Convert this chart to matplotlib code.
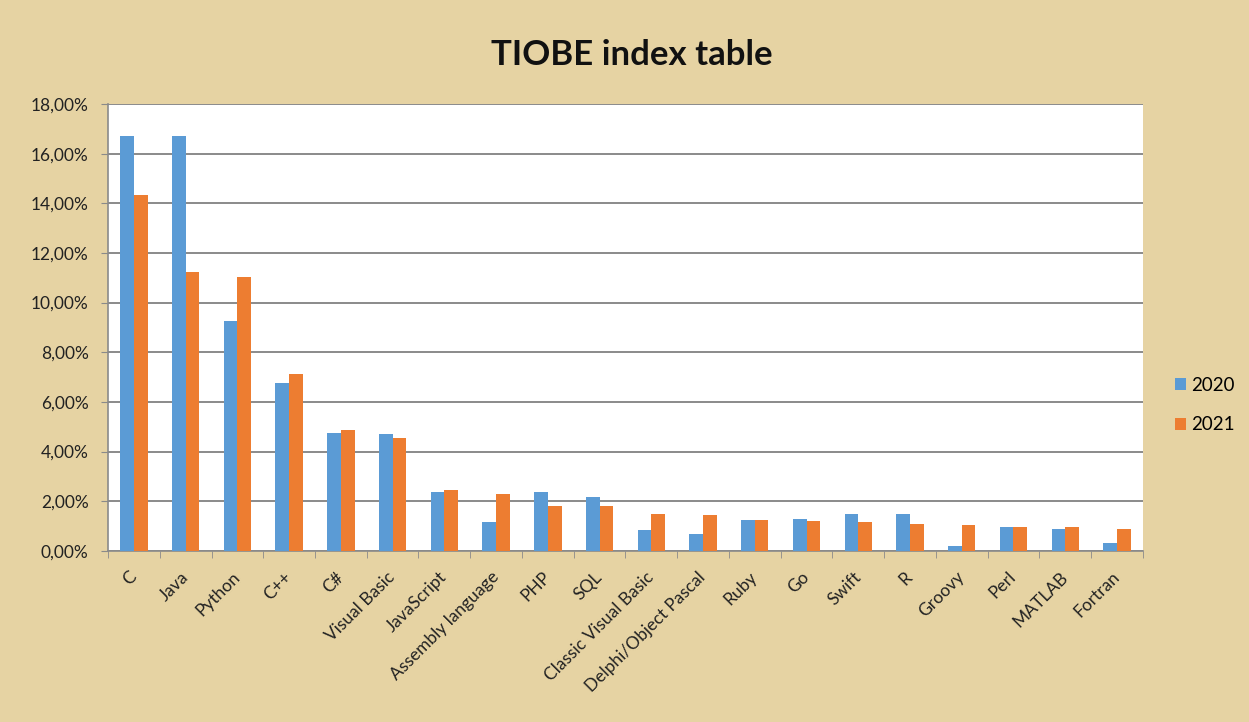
"""TIOBE index table: 2020 vs 2021 share per language (Excel-style clustered bars)."""
import matplotlib.pyplot as plt
import numpy as np
from matplotlib.ticker import FuncFormatter, MultipleLocator, FixedLocator
from matplotlib.patches import Patch

LANGUAGES = ["C", "Java", "Python", "C++", "C#", "Visual Basic", "JavaScript",
             "Assembly language", "PHP", "SQL", "Classic Visual Basic",
             "Delphi/Object Pascal", "Ruby", "Go", "Swift", "R", "Groovy",
             "Perl", "MATLAB", "Fortran"]
SHARE_2020 = [16.71, 16.72, 9.26, 6.77, 4.75, 4.71, 2.38, 1.17, 2.37, 2.17,
              0.85, 0.69, 1.24, 1.30, 1.50, 1.50, 0.18, 0.97, 0.90, 0.32]
SHARE_2021 = [14.32, 11.23, 11.03, 7.13, 4.87, 4.55, 2.46, 2.30, 1.82, 1.82,
              1.50, 1.44, 1.24, 1.22, 1.16, 1.10, 1.04, 0.97, 0.97, 0.90]

BLUE = "#5B9BD5"
ORANGE = "#ED7D31"
PAPER = "#E6D3A3"
GRID = "#8a8a8a"
INK = "#222222"

plt.rcParams["font.family"] = ["Lato", "DejaVu Sans"]

fig = plt.figure(figsize=(12.49, 7.22), dpi=100, facecolor=PAPER)
ax = fig.add_axes([0.0865, 0.237, 0.8285, 0.619])
ax.set_facecolor("white")

x = np.arange(len(LANGUAGES))
w = 0.265
ax.bar(x - w / 2, SHARE_2020, width=w, color=BLUE, zorder=3, label="2020")
ax.bar(x + w / 2, SHARE_2021, width=w, color=ORANGE, zorder=3, label="2021")

ax.set_xlim(-0.5, len(LANGUAGES) - 0.5)
ax.set_ylim(0, 18)
ax.yaxis.set_major_locator(MultipleLocator(2))
ax.yaxis.set_major_formatter(FuncFormatter(lambda v, _: f"{v:.2f}%".replace(".", ",")))
ax.grid(axis="y", color=GRID, linewidth=1.4, zorder=1)

# category labels end at the category centre; tick marks sit between categories
ax.set_xticks(x)
ax.set_xticklabels(LANGUAGES, rotation=45, ha="right", va="center",
                   rotation_mode="anchor", fontsize=12.5, color=INK)
ax.tick_params(axis="x", length=0, pad=17)
ax.xaxis.set_minor_locator(FixedLocator(np.arange(-0.5, len(LANGUAGES), 1)))
ax.tick_params(axis="x", which="minor", length=5, color=GRID)
ax.tick_params(axis="y", length=5, color=GRID, labelsize=12.5, labelcolor=INK, pad=9)

for side in ("top", "right"):
    ax.spines[side].set_visible(False)
for side in ("left", "bottom"):
    ax.spines[side].set_color(GRID)
    ax.spines[side].set_linewidth(1.2)

fig.text(0.506, 0.924, "TIOBE index table", ha="center", va="center",
         fontsize=25, weight="bold", color="#111")

handles = [Patch(facecolor=BLUE, label="2020"), Patch(facecolor=ORANGE, label="2021")]
fig.legend(handles=handles, loc="center left", bbox_to_anchor=(0.927, 0.439),
           frameon=False, fontsize=13.5, handlelength=0.6, handleheight=0.6,
           handletextpad=0.3, labelspacing=1.2)

fig.savefig("out.png", dpi=100, facecolor=PAPER)
